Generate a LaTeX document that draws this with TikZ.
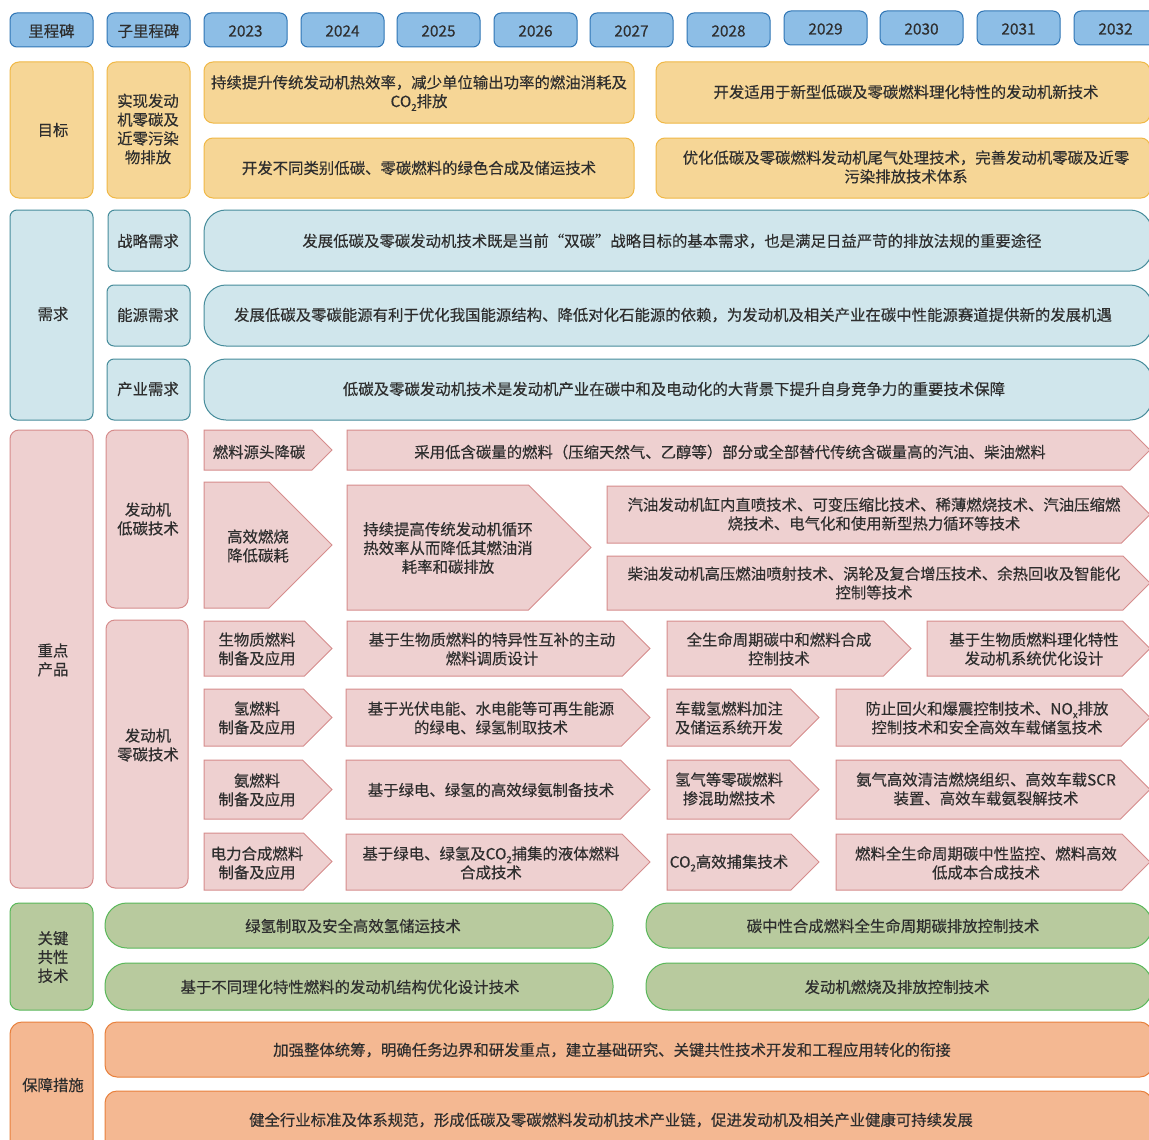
\documentclass[tikz,border=0pt]{standalone}
\usepackage{fontspec}
\setmainfont{Noto Sans CJK SC}[UprightFeatures={FakeBold=0.3}]
\definecolor{txt}{HTML}{2E2E2E}
\definecolor{hdrF}{HTML}{8DBEE6}\definecolor{hdrD}{HTML}{2F75B5}
\definecolor{ylwF}{HTML}{F6D696}\definecolor{ylwD}{HTML}{F0B846}
\definecolor{demF}{HTML}{D0E6EC}\definecolor{demD}{HTML}{468C9B}
\definecolor{pnkF}{HTML}{EED0D0}\definecolor{pnkD}{HTML}{D68C8C}
\definecolor{grnF}{HTML}{B8CA9E}\definecolor{grnD}{HTML}{5AB85A}
\definecolor{orgF}{HTML}{F4B892}\definecolor{orgD}{HTML}{E8803C}
\newcommand\fsz{\fontsize{15.4}{18.8}\selectfont}
\tikzset{
  every node/.style={text=txt, font=\fsz, align=center, inner sep=0pt, outer sep=0pt},
  lbl/.style={yshift=-1pt},
  hdr/.style={draw=hdrD, fill=hdrF, line width=1pt, rounded corners=7pt},
  ylw/.style={draw=ylwD, fill=ylwF, line width=1pt, rounded corners=9pt},
  dem/.style={draw=demD, fill=demF, line width=1pt, rounded corners=7pt},
  demlong/.style={draw=demD, fill=demF, line width=1pt, rounded corners=22pt},
  pnk/.style={draw=pnkD, fill=pnkF, line width=1pt, rounded corners=9pt},
  pchev/.style={draw=pnkD, fill=pnkF, line width=1pt},
  grn/.style={draw=grnD, fill=grnF, line width=1pt, rounded corners=9pt},
  pill/.style={draw=grnD, fill=grnF, line width=1pt, rounded corners=22pt},
  org/.style={draw=orgD, fill=orgF, line width=1pt, rounded corners=12pt},
}
% box: name, x1, y1, x2, y2, style, tx, ty, text
\newcommand\rb[9]{%
  \node[#6, anchor=north west, minimum width={(#4)-(#2)}, minimum height={(#5)-(#3)}] (#1) at (#2,#3) {};
  \node[lbl] (#1-t) at (#7,#8) {#9};}
% header box: name, x1, y1, text
\newcommand\hd[4]{%
  \node[hdr, anchor=north west, minimum width=83, minimum height=34] (#1) at (#2,#3) {};
  \node[lbl] (#1-t) at (#1.center) {#4};}
% chevron: name, x1, y1, x2, y2, tx, ty, text
\newcommand\chv[8]{%
  \pgfmathsetmacro\hh{((#5)-(#3))/2}%
  \pgfmathsetmacro\xm{(#4)-\hh}%
  \pgfmathsetmacro\ym{((#3)+(#5))/2}%
  \draw[pchev] (#2,#3) -- (\xm,#3) -- (#4,\ym) -- (\xm,#5) -- (#2,#5) -- cycle;
  \node[lbl] (#1) at (#6,#7) {#8};}
\newcommand\cotwo{CO\raisebox{-0.45ex}{\fontsize{9.5}{9.5}\selectfont 2}}
\begin{document}
\begin{tikzpicture}[x=1pt,y=-1pt]
\useasboundingbox (0,0) rectangle (1149,1140);
\clip (0,0) rectangle (1149,1140);
\fill[white] (0,0) rectangle (1149,1140);
% header
\hd{h0}{10}{13}{里程碑}
\hd{h1}{107}{13}{子里程碑}
\hd{y23}{204}{13}{2023}
\hd{y24}{301}{13}{2024}
\hd{y25}{397}{13}{2025}
\hd{y26}{494}{13}{2026}
\hd{y27}{590}{13}{2027}
\hd{y28}{687}{13}{2028}
\hd{y29}{784}{11}{2029}
\hd{y30}{880}{11}{2030}
\hd{y31}{977}{11}{2031}
\hd{y32}{1074}{11}{2032}
% goals
\rb{goal}{10}{62}{93}{198}{ylw}{53}{129}{目标}
\rb{subgoal}{107}{62}{190}{198}{ylw}{148}{128}{实现发动\\机零碳及\\近零污染\\物排放}
\rb{g1}{204}{62}{634}{123}{ylw}{419}{92}{持续提升传统发动机热效率，减少单位输出功率的燃油消耗及\\\cotwo{}排放}
\rb{g2}{204}{138}{634}{198}{ylw}{419}{167}{开发不同类别低碳、零碳燃料的绿色合成及储运技术}
\rb{g3}{656}{62}{1150}{123}{ylw}{906}{91}{开发适用于新型低碳及零碳燃料理化特性的发动机新技术}
\rb{g4}{656}{138}{1150}{198}{ylw}{906}{166}{优化低碳及零碳燃料发动机尾气处理技术，完善发动机零碳及近零\\污染排放技术体系}
% demand
\rb{dem}{10}{210}{93}{420}{dem}{53}{313}{需求}
\rb{d1s}{108}{210}{190}{271}{dem}{148}{240}{战略需求}
\rb{d2s}{107}{285}{190}{346}{dem}{148}{314}{能源需求}
\rb{d3s}{107}{359}{190}{420}{dem}{148}{388}{产业需求}
\rb{d1}{204}{210}{1152}{271}{demlong}{672}{240}{发展低碳及零碳发动机技术既是当前“双碳”战略目标的基本需求，也是满足日益严苛的排放法规的重要途径}
\rb{d2}{204}{285}{1152}{346}{demlong}{673}{314}{发展低碳及零碳能源有利于优化我国能源结构、降低对化石能源的依赖，为发动机及相关产业在碳中性能源赛道提供新的发展机遇}
\rb{d3}{204}{359}{1152}{420}{demlong}{674}{388}{低碳及零碳发动机技术是发动机产业在碳中和及电动化的大背景下提升自身竞争力的重要技术保障}
% key products
\rb{prod}{10}{430}{93}{888}{pnk}{53}{659}{重点\\产品}
\rb{lowc}{106}{430}{188}{608}{pnk}{148}{518}{发动机\\低碳技术}
\rb{zeroc}{106}{620}{188}{888}{pnk}{148}{744}{发动机\\零碳技术}
\chv{a1}{204}{430}{332}{470}{259}{451}{燃料源头降碳}
\chv{a2}{347}{430}{1150}{470}{730}{451}{采用低含碳量的燃料（压缩天然气、乙醇等）部分或全部替代传统含碳量高的汽油、柴油燃料}
\chv{b1}{204}{482}{332}{608}{258}{545}{高效燃烧\\降低碳耗}
\chv{b2}{347}{485}{591}{610}{448}{547}{持续提高传统发动机循环\\热效率从而降低其燃油消\\耗率和碳排放}
\chv{b3}{607}{486}{1150}{543}{874}{513}{汽油发动机缸内直喷技术、可变压缩比技术、稀薄燃烧技术、汽油压缩燃\\烧技术、电气化和使用新型热力循环等技术}
\chv{b4}{607}{556}{1150}{610}{874}{582}{柴油发动机高压燃油喷射技术、涡轮及复合增压技术、余热回收及智能化\\控制等技术}
\chv{r1a}{204}{621}{332}{676}{257}{648}{生物质燃料\\制备及应用}
\chv{r1b}{347}{621}{650}{676}{492}{648}{基于生物质燃料的特异性互补的主动\\燃料调质设计}
\chv{r1c}{667}{621}{911}{676}{779}{648}{全生命周期碳中和燃料合成\\控制技术}
\chv{r1d}{927}{621}{1150}{676}{1034}{648}{基于生物质燃料理化特性\\发动机系统优化设计}
\chv{r2a}{204}{689}{332}{746}{257}{717}{氢燃料\\制备及应用}
\chv{r2b}{346}{689}{650}{746}{491}{717}{基于光伏电能、水电能等可再生能源\\的绿电、绿氢制取技术}
\chv{r2c}{667}{689}{819}{746}{729}{717}{车载氢燃料加注\\及储运系统开发}
\chv{r2d}{836}{689}{1150}{746}{987}{717}{防止回火和爆震控制技术、NO\raisebox{-0.45ex}{\fontsize{9.5}{9.5}\selectfont x}排放\\控制技术和安全高效车载储氢技术}
\chv{r3a}{204}{760}{332}{819}{257}{789}{氨燃料\\制备及应用}
\chv{r3b}{346}{760}{650}{819}{491}{789}{基于绿电、绿氢的高效绿氨制备技术}
\chv{r3c}{667}{760}{819}{819}{729}{788}{氢气等零碳燃料\\掺混助燃技术}
\chv{r3d}{836}{760}{1150}{819}{986}{788}{氨气高效清洁燃烧组织、高效车载SCR\\装置、高效车载氨裂解技术}
\chv{r4a}{204}{833}{332}{890}{257}{862}{电力合成燃料\\制备及应用}
\chv{r4b}{346}{834}{650}{890}{491}{862}{基于绿电、绿氢及\cotwo{}捕集的液体燃料\\合成技术}
\chv{r4c}{667}{834}{819}{890}{729}{862}{\cotwo{}高效捕集技术}
\chv{r4d}{836}{834}{1150}{890}{986}{862}{燃料全生命周期碳中性监控、燃料高效\\低成本合成技术}
% key common technologies
\rb{key}{10}{903}{93}{1010}{grn}{53}{956}{关键\\共性\\技术}
\rb{k1}{105}{903}{613}{948}{pill}{353}{925}{绿氢制取及安全高效氢储运技术}
\rb{k2}{105}{963}{613}{1010}{pill}{350}{986}{基于不同理化特性燃料的发动机结构优化设计技术}
\rb{k3}{646}{903}{1152}{948}{pill}{893}{925}{碳中性合成燃料全生命周期碳排放控制技术}
\rb{k4}{646}{963}{1152}{1010}{pill}{897}{986}{发动机燃烧及排放控制技术}
% support measures
\rb{sup}{10}{1022}{93}{1152}{org}{53}{1084}{保障措施}
\rb{o1}{105}{1022}{1152}{1077}{org}{612}{1049}{加强整体统筹，明确任务边界和研发重点，建立基础研究、关键共性技术开发和工程应用转化的衔接}
\rb{o2}{105}{1091}{1152}{1152}{org}{611}{1119}{健全行业标准及体系规范，形成低碳及零碳燃料发动机技术产业链，促进发动机及相关产业健康可持续发展}
\end{tikzpicture}
\end{document}
